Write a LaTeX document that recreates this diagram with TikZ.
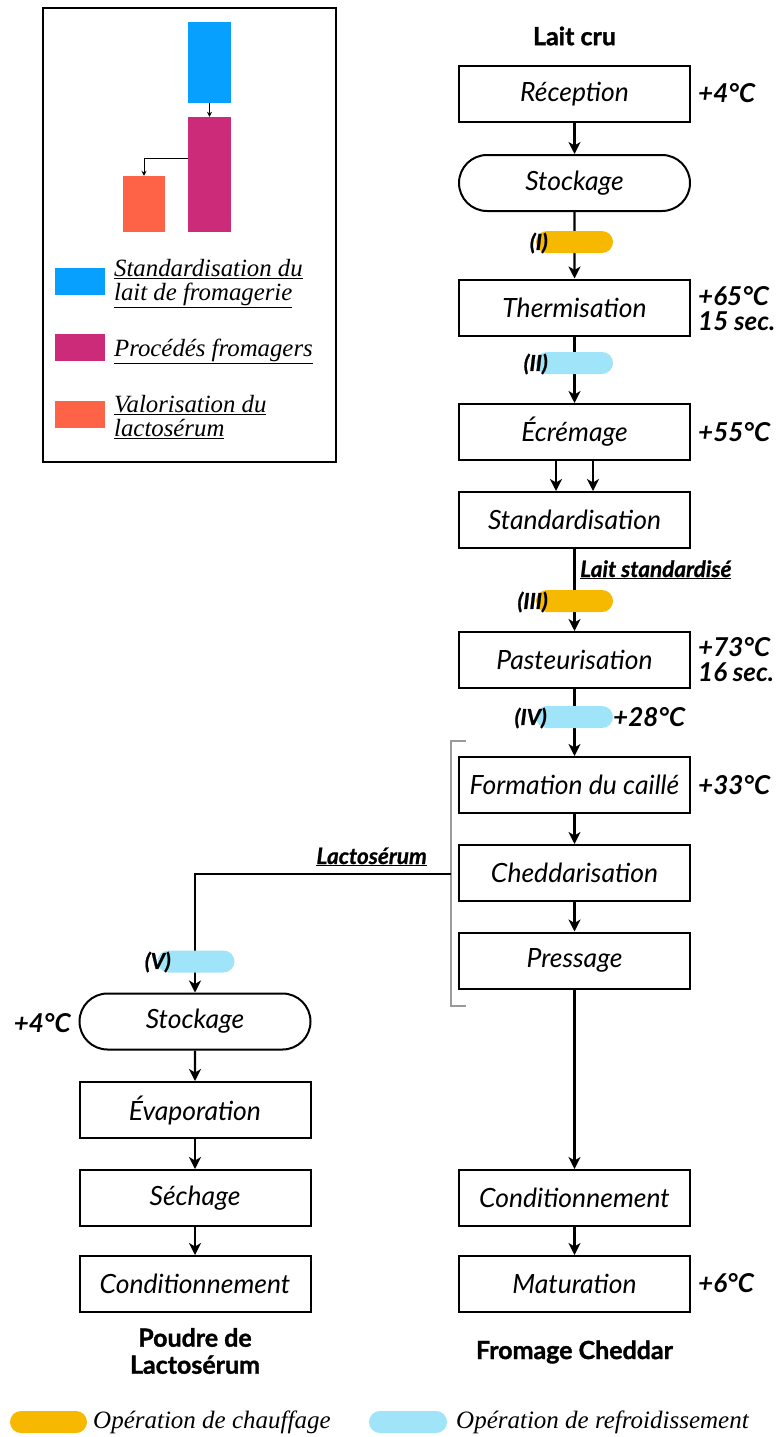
\documentclass[tikz,border=0pt]{standalone}
\usepackage{fontspec}
\setmainfont{Lato}
\newfontfamily\legendfont{Liberation Serif}
\usetikzlibrary{shapes.misc,arrows.meta}

\definecolor{heatc}{HTML}{F7B900}
\definecolor{coolc}{HTML}{A0E4FA}
\definecolor{stdc}{HTML}{07A0FF}
\definecolor{fromc}{HTML}{CC2B7A}
\definecolor{valc}{HTML}{FF6347}
\definecolor{brackc}{HTML}{9A9A9A}

\tikzset{
  stepbox/.style={draw, line width=2pt, minimum width=231pt, minimum height=56pt,
    inner sep=0pt, font=\fontsize{26.5}{30}\selectfont\itshape},
  stadium/.style={stepbox, rounded rectangle},
  pill/.style={rounded rectangle, minimum width=77pt, minimum height=22pt, inner sep=0pt},
  heat/.style={pill, fill=heatc},
  cool/.style={pill, fill=coolc},
  flow/.style={line width=2.2pt, -{Stealth[length=12pt,width=12pt,inset=3.5pt]}},
  temp/.style={font=\fontsize{26}{25}\selectfont\bfseries\itshape, anchor=west,
    align=left, inner sep=0pt},
  tag/.style={font=\fontsize{22}{24}\selectfont\bfseries\itshape\addfontfeature{FakeBold=1},
    anchor=east, inner sep=0pt},
  title/.style={font=\fontsize{25}{27}\selectfont\bfseries\addfontfeature{FakeBold=1.3},
    align=center, inner sep=0pt},
  flowlabel/.style={font=\fontsize{22.5}{24}\selectfont\bfseries\itshape\addfontfeature{FakeBold=0.8},
    inner sep=0pt},
  legtext/.style={font=\legendfont\fontsize{24.8}{24}\selectfont\itshape, anchor=north west,
    align=left, inner sep=0pt},
  botlegtext/.style={font=\legendfont\fontsize{25}{25}\selectfont\itshape, anchor=west,
    inner sep=0pt},
  swatch/.style={minimum width=50pt, minimum height=27pt, inner sep=0pt},
  bar/.style={inner sep=0pt, draw=none},
}

\begin{document}
\begin{tikzpicture}[x=1pt, y=-1pt]
  \useasboundingbox (0,0) rectangle (779,1437);

  % ---------- cheese line ----------
  \node[title] (raw) at (574.5,36) {Lait cru};
  \node[stepbox] (recep) at (574.5,94) {Réception};
  \node[stadium] (stock) at (574.5,183) {Stockage};
  \node[stepbox] (therm) at (574.5,307.5) {Thermisation};
  \node[stepbox] (ecre) at (574.5,432) {Écrémage};
  \node[stepbox] (stdz) at (574.5,520) {Standardisation};
  \node[stepbox] (past) at (574.5,660) {Pasteurisation};
  \node[stepbox] (curd) at (574.5,785) {Formation du caillé};
  \node[stepbox] (chedd) at (574.5,873) {Cheddarisation};
  \node[stepbox] (press) at (574.5,960.5) {Pressage};
  \node[stepbox] (pack) at (574.5,1198) {Conditionnement};
  \node[stepbox] (ripen) at (574.5,1284) {Maturation};
  \node[title] (cheddar) at (574.5,1352) {Fromage Cheddar};

  % ---------- whey line ----------
  \node[stadium] (wstock) at (195,1021.5) {Stockage};
  \node[stepbox] (evap) at (195,1110) {Évaporation};
  \node[stepbox] (dry) at (195,1198) {Séchage};
  \node[stepbox] (wpack) at (195,1284) {Conditionnement};
  \node[title] (powder) at (195,1351) {Poudre de\\Lactosérum};

  % ---------- connectors ----------
  \draw[flow] (recep) -- (stock);
  \draw[flow] (stock) -- (therm);
  \draw[flow] (therm) -- (ecre);
  \draw[flow] ([xshift=-18.5pt]ecre.south) -- ([xshift=-18.5pt]stdz.north);
  \draw[flow] ([xshift=18.5pt]ecre.south) -- ([xshift=18.5pt]stdz.north);
  \draw[flow] (stdz) -- (past);
  \draw[flow] (past) -- (curd);
  \draw[flow] (curd) -- (chedd);
  \draw[flow] (chedd) -- (press);
  \draw[flow] (press) -- (pack);
  \draw[flow] (pack) -- (ripen);

  \draw[flow] (wstock) -- (evap);
  \draw[flow] (evap) -- (dry);
  \draw[flow] (dry) -- (wpack);

  % bracket grouping the curd steps, and the whey branch leaving it
  \coordinate (btop) at (466,741);
  \coordinate (bbot) at (466,1006);
  \coordinate (whey) at (451,874);
  \draw[brackc, line width=2.2pt] (btop) -- (451,741) -- (451,1006) -- (bbot);
  \draw[flow] (whey) -| (wstock.north);
  \node[flowlabel, anchor=base east] (wheylbl) at (427,864) {\underline{Lactosérum}};
  \node[flowlabel, anchor=base west] (stdlbl) at (580,577) {\underline{Lait standardisé}};

  % ---------- heating / cooling operations ----------
  \node[heat] (op1) at (574.5,242) {};
  \node[cool] (op2) at (574.5,363) {};
  \node[heat] (op3) at (574.5,601) {};
  \node[cool] (op4) at (574.5,717) {};
  \node[cool] (op5) at (196,961.5) {};
  \node[tag] at (548,243) {(I)};
  \node[tag] at (548,364) {(II)};
  \node[tag] at (548,602) {(III)};
  \node[tag] at (547,718) {(IV)};
  \node[tag] at (171,962) {(V)};

  % ---------- temperatures ----------
  \node[temp] (t1) at (698,93) {+4°C};
  \node[temp] (t2) at (698,309) {+65°C\\15 sec.};
  \node[temp] (t3) at (698,432) {+55°C};
  \node[temp] (t4) at (698,660) {+73°C\\16 sec.};
  \node[temp] (t5) at (613,717) {+28°C};
  \node[temp] (t6) at (698,785) {+33°C};
  \node[temp] (t7) at (698,1283) {+6°C};
  \node[temp, anchor=east] (t8) at (71,1023) {+4°C};

  % ---------- legend of the three stages ----------
  \node[draw, line width=2.5pt, minimum width=293pt, minimum height=454pt, inner sep=0pt]
    (legbox) at (189.5,235) {};
  \node[bar, fill=stdc, minimum width=43pt, minimum height=81pt] (bstd) at (209.5,62.5) {};
  \node[bar, fill=fromc, minimum width=43pt, minimum height=115pt] (bfrom) at (209.5,174.5) {};
  \node[bar, fill=valc, minimum width=42pt, minimum height=56pt] (bval) at (144,204) {};
  \draw[line width=0.8pt, -{Stealth[length=5pt,width=5pt]}] (bstd) -- (bfrom);
  \draw[line width=0.8pt, -{Stealth[length=5pt,width=5pt]}] ([yshift=16.5pt]bfrom.west) -| (bval.north);

  \node[swatch, fill=stdc] (sstd) at (80,281.5) {};
  \node[swatch, fill=fromc] (sfrom) at (80,347.5) {};
  \node[swatch, fill=valc] (sval) at (80,414.5) {};
  \node[legtext] (lstd) at (114,259) {\underline{Standardisation du}\\\underline{lait de fromagerie}};
  \node[legtext] (lfrom) at (114,339) {\underline{Procédés fromagers}};
  \node[legtext] (lval) at (114,395) {\underline{Valorisation du}\\\underline{lactosérum}};

  % ---------- legend of the operations ----------
  \node[heat, minimum width=77pt] (kheat) at (48.5,1422) {};
  \node[botlegtext] (theat) at (93,1422) {Opération de chauffage};
  \node[cool, minimum width=78pt] (kcool) at (408,1422) {};
  \node[botlegtext] (tcool) at (456,1422) {Opération de refroidissement};
\end{tikzpicture}
\end{document}
